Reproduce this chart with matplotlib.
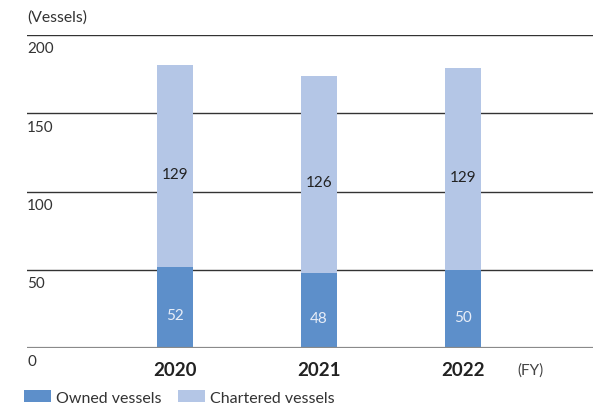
import matplotlib
matplotlib.use("Agg")
import matplotlib.pyplot as plt
import numpy as np

plt.rcParams['font.family'] = ['Lato', 'DejaVu Sans']

years = ["2020", "2021", "2022"]
owned = [52, 48, 50]
chartered = [129, 126, 129]

c_owned = '#5d8fca'
c_chart = '#b4c6e6'

fig = plt.figure(figsize=(5.95, 4.14), dpi=100)
ax = fig.add_axes([27 / 595, 65 / 414, 566 / 595, 313 / 414])

x = np.arange(len(years))
w = 0.245
ax.bar(x, owned, w, color=c_owned, zorder=3, label='Owned vessels')
ax.bar(x, chartered, w, bottom=owned, color=c_chart, zorder=3,
       label='Chartered vessels')

for i in range(len(years)):
    ax.text(x[i], owned[i] / 2 - 5, str(owned[i]), ha='center', va='center',
            fontsize=11, color='#e8eef8', zorder=4)
    ax.text(x[i], owned[i] + chartered[i] / 2 - 5, str(chartered[i]),
            ha='center', va='center', fontsize=11, color='#222222', zorder=4)

ax.set_xlim(-1.028, 2.903)
ax.set_ylim(0, 200)

for v in [50, 100, 150, 200]:
    ax.axhline(v, color='#333333', lw=1, zorder=1)
ax.axhline(0, color='#8a8a8a', lw=1.6, zorder=5)

for v in [0, 50, 100, 150, 200]:
    ax.text(0, v - 4, str(v), transform=ax.get_yaxis_transform(),
            ha='left', va='top', fontsize=11, color='#333333')

for s in ax.spines.values():
    s.set_visible(False)
ax.set_xticks([])
ax.set_yticks([])

for i, y in enumerate(years):
    ax.text(x[i], -8, y, ha='center', va='top', fontsize=13.5,
            fontweight='bold', color='#222222')
ax.text(2.47, -9, '(FY)', ha='center', va='top', fontsize=11, color='#444444')

fig.text(27 / 595, 1 - 18 / 414, '(Vessels)', ha='left', va='center',
         fontsize=11.3, color='#333333')

ax.legend(loc='upper left', bbox_to_anchor=(-0.005, -0.135), ncol=2, frameon=False,
          fontsize=11.5, handlelength=1.7, handleheight=0.8, handletextpad=0.3,
          columnspacing=1.0, borderaxespad=0, borderpad=0,
          labelcolor='#333333')

fig.savefig('out.png', dpi=100)
